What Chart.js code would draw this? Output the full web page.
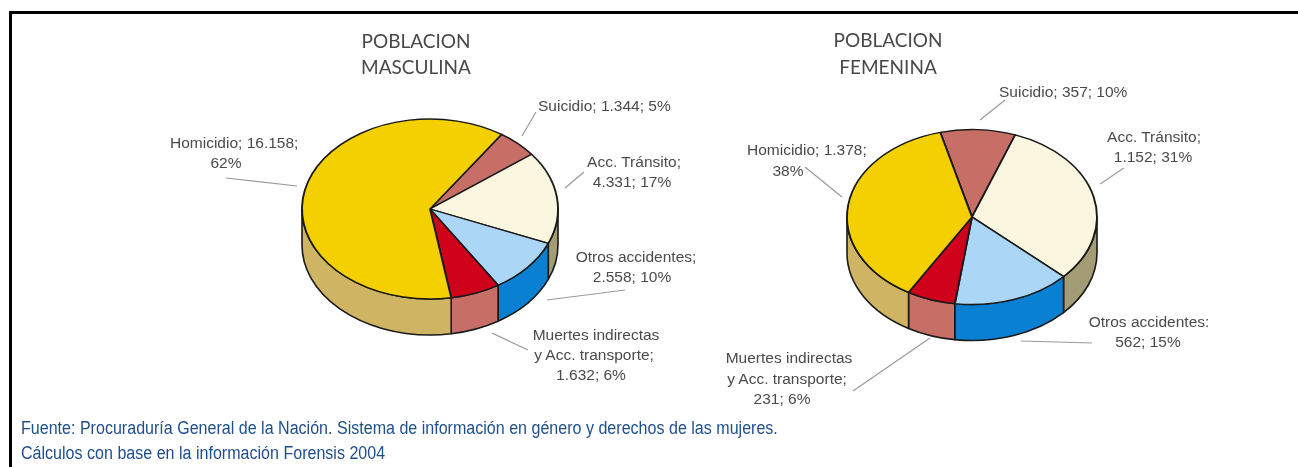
<!DOCTYPE html>
<html lang="es">
<head>
<meta charset="utf-8">
<title>Poblacion masculina y femenina</title>
<script src="https://cdn.jsdelivr.net/npm/chart.js@4"></script>
<style>
  html, body { margin: 0; padding: 0; background: #fff; }
  #page { position: relative; width: 1298px; height: 467px; overflow: hidden; }
  #page canvas { position: absolute; }
  #frameTop { position: absolute; left: 9px; top: 11px; width: 1289px; height: 3px; background: #000; }
  #frameLeft { position: absolute; left: 9px; top: 11px; width: 3px; height: 456px; background: #000; }
  #leaders { position: absolute; left: 0; top: 0; }
  .t { position: absolute; white-space: pre; line-height: 1; }
  .label { font: 15.5px "Liberation Sans", Arial, sans-serif; color: #4a4a4a; }
  .title { font: 19px Lato, sans-serif; color: #484848; }
  .note { font: 18px "Liberation Sans", sans-serif; color: #1f4e8c; transform-origin: left center; }
</style>
</head>
<body>
<div id="page">
  <div id="frameTop"></div>
  <div id="frameLeft"></div>
  <canvas id="maleChart" width="300" height="300" style="left:280px;top:59px"></canvas>
  <canvas id="femaleChart" width="300" height="300" style="left:822px;top:67px"></canvas>
  <svg id="leaders" width="1298" height="467"></svg>
</div>
<script>
// Datos
const categories = ['Suicidio', 'Acc. Tránsito', 'Otros accidentes', 'Muertes indirectas y Acc. transporte', 'Homicidio'];
const maleValues = [1344, 4331, 2558, 1632, 16158];
const femaleValues = [357, 1152, 562, 231, 1378];

// Colores de cada porción: cara superior y pared lateral
const topColors = ['#c76f66', '#faf6df', '#abd6f6', '#d0021b', '#f5d000'];
const sideColors = ['#c76f66', '#a39c75', '#0a80d2', '#c76f66', '#cfb463'];

const noteLines = [
  'Fuente: Procuraduría General de la Nación. Sistema de información en género y derechos de las mujeres.',
  'Cálculos con base en la información Forensis 2004'
];

// Textos: [x, y, alineación, texto]
const titleTexts = [
  [416, 40, 'center', 'POBLACION'],
  [416, 66, 'center', 'MASCULINA'],
  [888, 39, 'center', 'POBLACION'],
  [888, 66, 'center', 'FEMENINA']
];
const labelTexts = [
  [538, 106, 'left', 'Suicidio; 1.344; 5%'],
  [634, 162, 'center', 'Acc. Tránsito;'],
  [632, 182, 'center', '4.331; 17%'],
  [170, 143, 'left', 'Homicidio; 16.158;'],
  [226, 163, 'center', '62%'],
  [636, 257, 'center', 'Otros accidentes;'],
  [632, 277, 'center', '2.558; 10%'],
  [596, 335, 'center', 'Muertes indirectas'],
  [594, 355, 'center', 'y Acc. transporte;'],
  [591, 375, 'center', '1.632; 6%'],
  [999, 92, 'left', 'Suicidio; 357; 10%'],
  [1154, 137, 'center', 'Acc. Tránsito;'],
  [1153, 157, 'center', '1.152; 31%'],
  [747, 150, 'left', 'Homicidio; 1.378;'],
  [788, 171, 'center', '38%'],
  [1149, 322, 'center', 'Otros accidentes:'],
  [1148, 342, 'center', '562; 15%'],
  [789, 358, 'center', 'Muertes indirectas'],
  [787, 379, 'center', 'y Acc. transporte;'],
  [782, 399, 'center', '231; 6%']
];
// Líneas guía de las etiquetas
const leaderLines = [
  [522, 136, 536, 112], [565, 188, 584, 172], [226, 178, 297, 186], [547, 300, 625, 290], [492, 333, 528, 350],
  [980, 120, 1005, 100], [1100, 184, 1124, 168], [805, 167, 842, 197], [1021, 341, 1092, 343], [853, 391, 930, 338]
];

const page = document.getElementById('page');

function addText(item, cls, extra) {
  const el = document.createElement('div');
  el.className = 't ' + cls;
  el.textContent = item[3];
  el.style.left = item[0] + 'px';
  el.style.top = item[1] + 'px';
  const shift = item[2] === 'center' ? '-50%' : '0';
  el.style.transform = 'translate(' + shift + ',-50%)' + (extra || '');
  page.appendChild(el);
}
titleTexts.forEach(t => addText(t, 'title'));
labelTexts.forEach(t => addText(t, 'label'));
// letra angosta: no hay Helvetica Narrow instalada
addText([21, 428, 'left', noteLines[0]], 'note', ' scaleX(0.892)');
addText([21, 453, 'left', noteLines[1]], 'note', ' scaleX(0.892)');

const svg = document.getElementById('leaders');
leaderLines.forEach(l => {
  const line = document.createElementNS('http://www.w3.org/2000/svg', 'line');
  line.setAttribute('x1', l[0]);
  line.setAttribute('y1', l[1]);
  line.setAttribute('x2', l[2]);
  line.setAttribute('y2', l[3]);
  line.setAttribute('stroke', '#9a9a9a');
  line.setAttribute('stroke-width', '1.2');
  svg.appendChild(line);
});

// Inclina la torta y dibuja la pared lateral a partir de los arcos de Chart.js
const tiltPlugin = {
  id: 'tilt',
  beforeDatasetsDraw(chart, args, opts) {
    const ctx = chart.ctx;
    const arcs = chart.getDatasetMeta(0).data;
    const sides = chart.data.datasets[0].sideColors;
    const cx = arcs[0].x, cy = arcs[0].y;
    const rx = arcs[0].outerRadius, ry = rx * opts.ratio;
    ctx.save();
    ctx.lineWidth = 1.6;
    ctx.strokeStyle = '#1a1a1a';
    ctx.lineJoin = 'round';
    arcs.forEach((arc, i) => {
      // solo la mitad de abajo (0 a PI) se ve de frente
      [-2, 0, 2].forEach(turn => {
        const a = Math.max(arc.startAngle + turn * Math.PI, 0);
        const b = Math.min(arc.endAngle + turn * Math.PI, Math.PI);
        if (b <= a) return;
        ctx.beginPath();
        ctx.ellipse(cx, cy, rx, ry, 0, a, b);
        ctx.ellipse(cx, cy + opts.depth, rx, ry, 0, b, a, true);
        ctx.closePath();
        ctx.fillStyle = sides[i];
        ctx.fill();
        ctx.stroke();
      });
    });
    ctx.restore();
    ctx.save();
    ctx.translate(cx, cy);
    ctx.scale(1, opts.ratio);
    ctx.translate(-cx, -cy);
  },
  afterDatasetsDraw(chart) {
    chart.ctx.restore();
  }
};

function makePie(id, values, radius, rotation, ratio) {
  return new Chart(document.getElementById(id), {
    type: 'pie',
    data: {
      labels: categories,
      datasets: [{
        data: values,
        backgroundColor: topColors,
        sideColors: sideColors,
        borderColor: '#1a1a1a',
        borderWidth: 1.9
      }]
    },
    options: {
      responsive: false,
      animation: false,
      radius: radius,
      rotation: rotation,
      plugins: {
        legend: { display: false },
        tooltip: { enabled: false },
        tilt: { ratio: ratio, depth: 36 }
      }
    },
    plugins: [tiltPlugin]
  });
}

makePie('maleChart', maleValues, 128, 34, 0.703);
makePie('femaleChart', femaleValues, 125, -14.7, 0.7);
</script>
</body>
</html>
